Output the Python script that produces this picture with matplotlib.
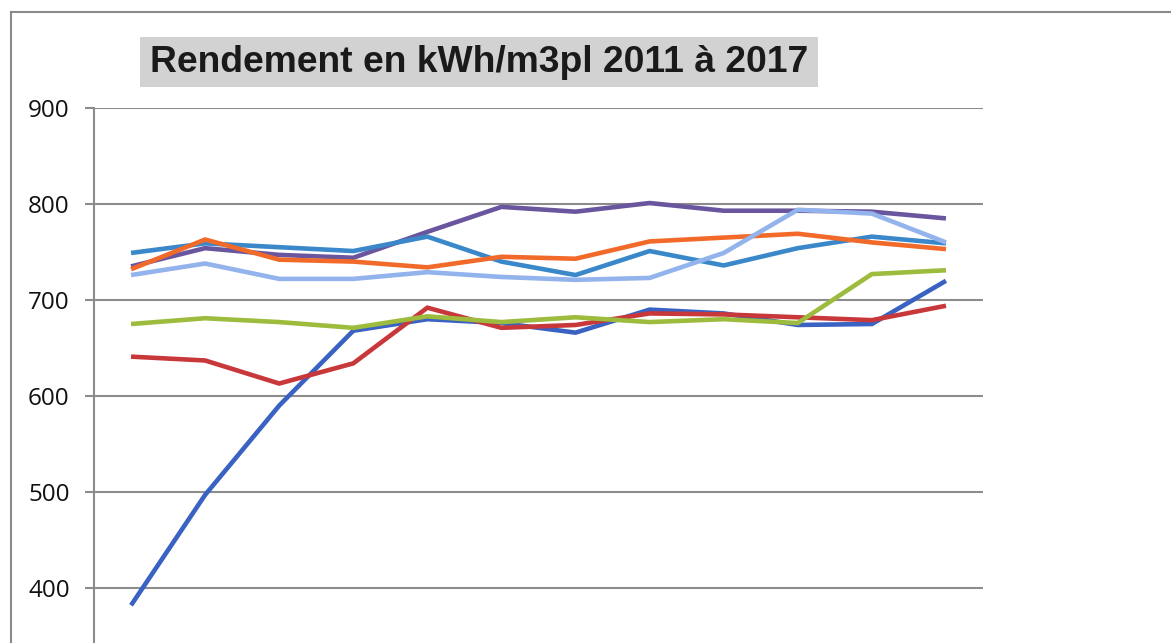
import matplotlib
matplotlib.use("Agg")
import matplotlib.pyplot as plt
from matplotlib.patches import Rectangle
from matplotlib.lines import Line2D

# ---- data ----
periods = list(range(12))
serie_bleu_fonce = [382, 497, 590, 668, 680, 676, 666, 690, 686, 674, 675, 720]
serie_rouge      = [641, 637, 613, 634, 692, 671, 674, 686, 685, 682, 679, 694]
serie_vert       = [675, 681, 677, 671, 683, 677, 682, 677, 680, 676, 727, 731]
serie_violet     = [735, 754, 747, 744, 771, 797, 792, 801, 793, 793, 792, 785]
serie_bleu       = [749, 759, 755, 751, 766, 740, 726, 751, 736, 754, 766, 759]
serie_orange     = [732, 763, 742, 740, 734, 745, 743, 761, 765, 769, 760, 753]
serie_bleu_clair = [726, 738, 722, 722, 729, 724, 721, 723, 749, 794, 790, 760]
y_ticks = [400, 500, 600, 700, 800, 900]
title = "Rendement en kWh/m3pl 2011 à 2017"

series = [
    (serie_bleu_fonce, '#3A62C2'),
    (serie_rouge, '#C8383A'),
    (serie_vert, '#9DBB3C'),
    (serie_violet, '#6A569E'),
    (serie_bleu, '#3A88CA'),
    (serie_orange, '#F26A2A'),
    (serie_bleu_clair, '#93B3EC'),
]

W, H = 1171, 643
fig = plt.figure(figsize=(W / 100, H / 100), dpi=100)

def fx(px):
    return px / W

def fy(py):
    return 1 - py / H

# outer chart border (cropped on right and bottom)
fig.add_artist(Line2D([fx(11), 1.0], [fy(12), fy(12)], color='#8A8A8A', lw=1.5))
fig.add_artist(Line2D([fx(11), fx(11)], [fy(12), 0.0], color='#8A8A8A', lw=1.5))

# title with gray box
fig.add_artist(Rectangle((fx(140), fy(87)), fx(818) - fx(140), fy(37) - fy(87),
                         facecolor='#D2D2D2', edgecolor='none'))
fig.text(fx(479), fy(63), title, ha='center', va='center',
         fontsize=26.8, fontweight='bold', family='Liberation Sans', color='#1A1A1A')

ymin = 900 - (H - 108) / 0.96
ax = fig.add_axes([fx(94), 0.0, fx(983) - fx(94), fy(108)])
for vals, col in series:
    ax.plot(periods, vals, color=col, lw=3.3, solid_joinstyle='miter', solid_capstyle='butt')

ax.set_xlim(-0.5, 11.5)
ax.set_ylim(ymin, 900)
ax.set_yticks(y_ticks)
ax.set_yticklabels([str(v) for v in y_ticks], family='Open Sans', fontsize=17.5, color='#111111')
ax.set_xticks([])
ax.yaxis.grid(True, color='#8C8C8C', lw=1.5)
ax.set_axisbelow(True)
for s in ['top', 'right', 'bottom']:
    ax.spines[s].set_visible(False)
ax.spines['left'].set_color('#8C8C8C')
ax.spines['left'].set_linewidth(1.5)
ax.tick_params(axis='y', length=6.5, width=1.5, color='#8C8C8C', pad=11)

fig.savefig('out.png', dpi=100)
